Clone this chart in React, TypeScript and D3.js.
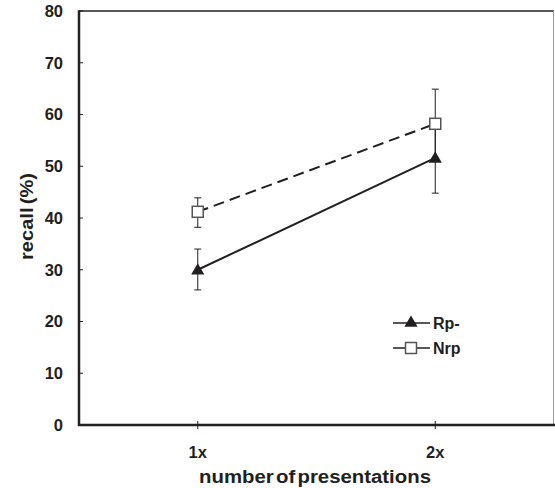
import * as d3 from "d3";
import { useEffect, useRef } from "react";

const categories = ["1x", "2x"];
const rpMean = [30.0, 51.6];
const rpLow = [26.1, 44.8];
const rpHigh = [34.0, 58.4];
const nrpMean = [41.2, 58.2];
const nrpLow = [38.2, 51.6];
const nrpHigh = [43.9, 64.9];
const yTicks = [0, 10, 20, 30, 40, 50, 60, 70, 80];

export default function App() {
  const ref = useRef<SVGSVGElement>(null);

  useEffect(() => {
    const svg = d3.select(ref.current);
    svg.selectAll("*").remove();

    const width = 555;
    const height = 488;
    const margin = { top: 11, right: 1, bottom: 63, left: 79 };
    const font = "'Liberation Sans', Arial, sans-serif";
    const ink = "#231f20";

    svg.attr("width", width).attr("height", height);

    const x = d3
      .scaleLinear()
      .domain([0.5, 2.5])
      .range([margin.left, width - margin.right]);
    const y = d3
      .scaleLinear()
      .domain([0, 80])
      .range([height - margin.bottom, margin.top]);

    const xi = (i: number) => x(i + 1);

    // frame: top and right
    svg.append("line")
      .attr("x1", margin.left).attr("x2", width - margin.right)
      .attr("y1", y(80)).attr("y2", y(80))
      .attr("stroke", ink).attr("stroke-width", 1.5);
    svg.append("line")
      .attr("x1", width - margin.right - 0.5).attr("x2", width - margin.right - 0.5)
      .attr("y1", y(80)).attr("y2", y(0))
      .attr("stroke", "#9a9a9a").attr("stroke-width", 1);

    // y axis
    svg.append("line")
      .attr("x1", margin.left).attr("x2", margin.left)
      .attr("y1", y(80) - 0.75).attr("y2", y(0) + 1)
      .attr("stroke", ink).attr("stroke-width", 2.5);
    svg.selectAll(".ytick")
      .data(yTicks)
      .enter()
      .append("line")
      .attr("x1", margin.left).attr("x2", margin.left + 4)
      .attr("y1", d => y(d)).attr("y2", d => y(d))
      .attr("stroke", ink).attr("stroke-width", 1);
    svg.selectAll(".ylab")
      .data(yTicks)
      .enter()
      .append("text")
      .attr("x", 63)
      .attr("y", d => y(d))
      .attr("dy", "0.36em")
      .attr("text-anchor", "end")
      .style("font-family", font)
      .style("font-weight", "bold")
      .style("font-size", "16.5px")
      .attr("fill", ink)
      .text(d => d);

    // x axis
    svg.append("line")
      .attr("x1", margin.left - 1).attr("x2", width)
      .attr("y1", y(0)).attr("y2", y(0))
      .attr("stroke", ink).attr("stroke-width", 2.5);
    svg.selectAll(".xtick")
      .data(categories)
      .enter()
      .append("line")
      .attr("x1", (_, i) => xi(i)).attr("x2", (_, i) => xi(i))
      .attr("y1", y(0) - 4).attr("y2", y(0) + 4)
      .attr("stroke", ink).attr("stroke-width", 1);
    svg.selectAll(".xlab")
      .data(categories)
      .enter()
      .append("text")
      .attr("x", (_, i) => xi(i))
      .attr("y", 458)
      .attr("text-anchor", "middle")
      .style("font-family", font)
      .style("font-weight", "bold")
      .style("font-size", "16.5px")
      .attr("fill", ink)
      .text(d => d);

    // titles
    svg.append("text")
      .attr("x", 199)
      .attr("y", 483)
      .attr("textLength", 232)
      .attr("lengthAdjust", "spacingAndGlyphs")
      .style("font-family", font)
      .style("font-weight", "bold")
      .style("font-size", "18px")
      .style("word-spacing", "-3px")
      .attr("fill", ink)
      .text("number of presentations");
    svg.append("text")
      .attr("transform", `translate(33,260) rotate(-90)`)
      .attr("textLength", 87)
      .attr("lengthAdjust", "spacingAndGlyphs")
      .style("font-family", font)
      .style("font-weight", "bold")
      .style("font-size", "17.5px")
      .style("word-spacing", "-2px")
      .attr("fill", ink)
      .text("recall (%)");

    const g = svg.append("g");

    // error bars
    const drawErr = (low: number[], high: number[]) => {
      categories.forEach((_, i) => {
        const cx = xi(i);
        g.append("line")
          .attr("x1", cx).attr("x2", cx)
          .attr("y1", y(high[i])).attr("y2", y(low[i]))
          .attr("stroke", ink).attr("stroke-width", 1);
        [low[i], high[i]].forEach(v => {
          g.append("line")
            .attr("x1", cx - 3.5).attr("x2", cx + 3.5)
            .attr("y1", y(v)).attr("y2", y(v))
            .attr("stroke", ink).attr("stroke-width", 1);
        });
      });
    };
    drawErr(nrpLow, nrpHigh);
    drawErr(rpLow, rpHigh);

    const line = d3
      .line<number>()
      .x((_, i) => xi(i))
      .y(d => y(d));

    g.append("path")
      .datum(nrpMean)
      .attr("d", line)
      .attr("fill", "none")
      .attr("stroke", ink)
      .attr("stroke-width", 2)
      .attr("stroke-dasharray", "11,6");
    g.append("path")
      .datum(rpMean)
      .attr("d", line)
      .attr("fill", "none")
      .attr("stroke", ink)
      .attr("stroke-width", 2);

    const tri = d3.symbol().type(d3.symbolTriangle).size(75);
    const square = (gg: any, cx: number, cy: number) =>
      gg.append("rect")
        .attr("x", cx - 5.5).attr("y", cy - 5.5)
        .attr("width", 11).attr("height", 11)
        .attr("fill", "white")
        .attr("stroke", "#555")
        .attr("stroke-width", 1.5);

    nrpMean.forEach((v, i) => square(g, xi(i), y(v)));
    rpMean.forEach((v, i) => {
      g.append("path")
        .attr("d", tri() as string)
        .attr("transform", `translate(${xi(i)},${y(v) + 1})`)
        .attr("fill", ink);
    });

    // legend
    const legend = [
      { name: "Rp-", yy: 323, kind: "tri" },
      { name: "Nrp", yy: 348, kind: "sq" },
    ];
    legend.forEach(l => {
      svg.append("line")
        .attr("x1", 393).attr("x2", 430)
        .attr("y1", l.yy).attr("y2", l.yy)
        .attr("stroke", ink).attr("stroke-width", 1.5);
      if (l.kind === "tri") {
        svg.append("path")
          .attr("d", tri() as string)
          .attr("transform", `translate(411,${l.yy})`)
          .attr("fill", ink);
      } else {
        square(svg, 411, l.yy);
      }
      svg.append("text")
        .attr("x", 433)
        .attr("y", l.yy)
        .attr("dy", "0.36em")
        .style("font-family", font)
        .style("font-weight", "bold")
        .style("font-size", "16px")
        .attr("fill", ink)
        .text(l.name);
    });
  }, []);

  return (
    <div style={{ position: "absolute", left: 0, top: 0 }}>
      <svg ref={ref} style={{ display: "block" }} />
    </div>
  );
}
